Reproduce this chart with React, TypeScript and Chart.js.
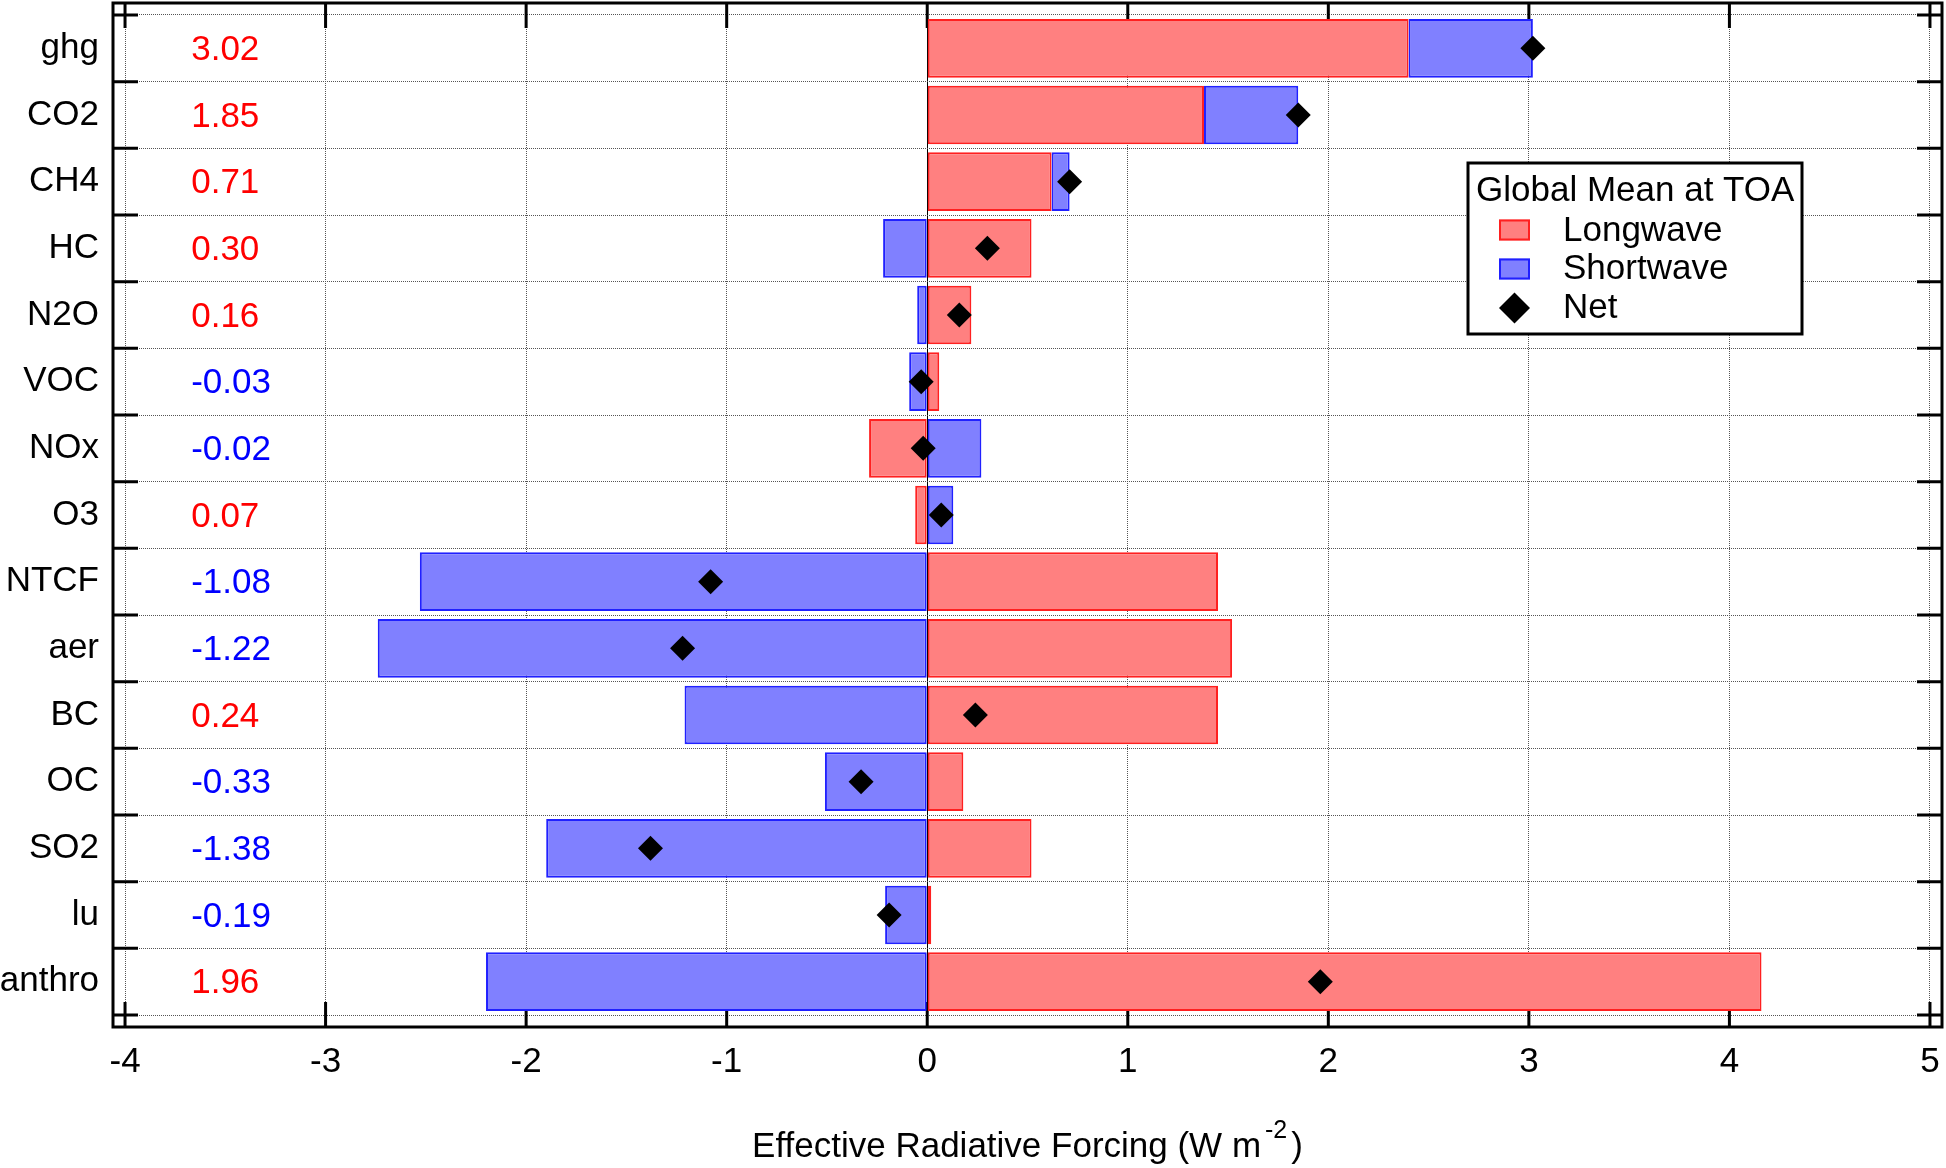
import { useEffect, useRef } from 'react';
import { Chart, registerables } from 'chart.js';

Chart.register(...registerables);

const FONT = "'Liberation Sans', Arial, Helvetica, sans-serif";
const FS = 35;

const CATEGORIES = ['ghg', 'CO2', 'CH4', 'HC', 'N2O', 'VOC', 'NOx', 'O3', 'NTCF', 'aer', 'BC', 'OC', 'SO2', 'lu', 'anthro'];
const LONGWAVE = [2.40, 1.38, 0.62, 0.52, 0.22, 0.06, -0.29, -0.06, 1.45, 1.52, 1.45, 0.18, 0.52, 0.02, 4.16];
const SHORTWAVE = [0.62, 0.47, 0.09, -0.22, -0.05, -0.09, 0.27, 0.13, -2.53, -2.74, -1.21, -0.51, -1.90, -0.21, -2.20];
const NET = [3.02, 1.85, 0.71, 0.30, 0.16, -0.03, -0.02, 0.07, -1.08, -1.22, 0.24, -0.33, -1.38, -0.19, 1.96];
const X_TICKS = [-4, -3, -2, -1, 0, 1, 2, 3, 4, 5];
const X_MIN = -4.06;
const X_MAX = 5.06;
const Y_MIN = -0.68;
const Y_MAX = 14.68;
const NET_LABEL_X = -3.67;
const AXIS_TITLE = 'Effective Radiative Forcing (W m';
const AXIS_TITLE_SUP = '-2';
const AXIS_TITLE_END = ')';
const LEGEND_TITLE = 'Global Mean at TOA';
const LEGEND_LABELS = ['Longwave', 'Shortwave', 'Net'];

const RED_FILL = '#ff8080';
const RED_LINE = '#ff2020';
const BLUE_FILL = '#8080ff';
const BLUE_LINE = '#2020ff';
const GRID = '#555555';

const framePlugin = {
  id: 'frame',
  beforeDatasetsDraw(chart: any) {
    const { ctx, chartArea: a, scales } = chart;
    const x = scales.x;
    const y = scales.y;
    const T = 25;
    ctx.save();
    ctx.strokeStyle = '#000';
    ctx.lineWidth = 3;
    ctx.strokeRect(a.left, a.top, a.right - a.left, a.bottom - a.top);
    ctx.beginPath();
    X_TICKS.forEach((v) => {
      const px = x.getPixelForValue(v);
      ctx.moveTo(px, a.top);
      ctx.lineTo(px, a.top + T);
      ctx.moveTo(px, a.bottom);
      ctx.lineTo(px, a.bottom - T);
    });
    for (let i = 0; i <= CATEGORIES.length; i++) {
      const py = y.getPixelForValue(i - 0.5);
      ctx.moveTo(a.left, py);
      ctx.lineTo(a.left + T, py);
      ctx.moveTo(a.right, py);
      ctx.lineTo(a.right - T, py);
    }
    ctx.stroke();
    ctx.restore();
  },
};

const annotatePlugin = {
  id: 'annotate',
  afterDraw(chart: any) {
    const { ctx, chartArea: a, scales } = chart;
    const x = scales.x;
    const y = scales.y;
    ctx.save();
    const mainFont = `${FS}px ${FONT}`;
    const supFont = `25px ${FONT}`;
    // net values column
    ctx.font = mainFont;
    ctx.textAlign = 'left';
    ctx.textBaseline = 'middle';
    NET.forEach((v, i) => {
      ctx.fillStyle = v > 0 ? '#ff0000' : '#0000ff';
      ctx.fillText(v.toFixed(2), x.getPixelForValue(NET_LABEL_X), y.getPixelForValue(i) + 2);
    });

    // axis title with superscript
    ctx.fillStyle = '#000';
    ctx.textBaseline = 'alphabetic';
    ctx.font = mainFont;
    const w1 = ctx.measureText(AXIS_TITLE).width;
    const w3 = ctx.measureText(AXIS_TITLE_END).width;
    ctx.font = supFont;
    const w2 = ctx.measureText(AXIS_TITLE_SUP).width;
    const gap = 4;
    const cx = (a.left + a.right) / 2;
    const x0 = cx - (w1 + gap + w2 + gap + w3) / 2;
    const base = a.bottom + 130;
    ctx.font = mainFont;
    ctx.fillText(AXIS_TITLE, x0, base);
    ctx.font = supFont;
    ctx.fillText(AXIS_TITLE_SUP, x0 + w1 + gap, base - 19);
    ctx.font = mainFont;
    ctx.fillText(AXIS_TITLE_END, x0 + w1 + gap + w2 + gap, base);

    // legend
    const L = 1468, T = 163, R = 1802, B = 334;
    ctx.fillStyle = '#fff';
    ctx.fillRect(L, T, R - L, B - T);
    ctx.strokeStyle = '#000';
    ctx.lineWidth = 3;
    ctx.strokeRect(L, T, R - L, B - T);
    ctx.fillStyle = '#000';
    ctx.font = mainFont;
    ctx.textBaseline = 'middle';
    ctx.fillText(LEGEND_TITLE, 1476, 191);
    const rows = [231, 269, 308];
    const marks = [230, 269, 308];
    ctx.lineWidth = 2;
    ctx.fillStyle = RED_FILL;
    ctx.strokeStyle = RED_LINE;
    ctx.fillRect(1499, marks[0] - 10.5, 31, 21);
    ctx.strokeRect(1500, marks[0] - 9.5, 29, 19);
    ctx.fillStyle = BLUE_FILL;
    ctx.strokeStyle = BLUE_LINE;
    ctx.fillRect(1499, marks[1] - 10.5, 31, 21);
    ctx.strokeRect(1500, marks[1] - 9.5, 29, 19);
    ctx.fillStyle = '#000';
    const dc = 1514.5, dr = 15.5;
    ctx.beginPath();
    ctx.moveTo(dc - dr, marks[2]);
    ctx.lineTo(dc, marks[2] - dr);
    ctx.lineTo(dc + dr, marks[2]);
    ctx.lineTo(dc, marks[2] + dr);
    ctx.closePath();
    ctx.fill();
    LEGEND_LABELS.forEach((t, i) => {
      ctx.fillText(t, 1563, rows[i]);
    });
    ctx.restore();
  },
};

export default function App() {
  const ref = useRef<HTMLCanvasElement>(null);

  useEffect(() => {
    if (!ref.current) return;
    Chart.defaults.font.family = FONT;
    Chart.defaults.font.size = FS;
    Chart.defaults.color = '#000';

    const chart = new Chart(ref.current, {
      type: 'bar',
      data: {
        datasets: [
          {
            type: 'bar',
            label: 'Longwave',
            data: LONGWAVE.map((v, i) => ({ x: v, y: i })),
            backgroundColor: RED_FILL,
            borderColor: RED_LINE,
            borderWidth: 2,
            borderSkipped: false,
            categoryPercentage: 1,
            barPercentage: 0.88,
            order: 1,
          },
          {
            type: 'bar',
            label: 'Shortwave',
            data: SHORTWAVE.map((v, i) => ({ x: v, y: i })),
            backgroundColor: BLUE_FILL,
            borderColor: BLUE_LINE,
            borderWidth: 2,
            borderSkipped: false,
            categoryPercentage: 1,
            barPercentage: 0.88,
            order: 2,
          },
          {
            type: 'scatter',
            label: 'Net',
            data: NET.map((v, i) => ({ x: v, y: i })),
            pointStyle: 'rectRot',
            pointRadius: 12.5,
            backgroundColor: '#000',
            borderColor: '#000',
            borderWidth: 0,
            showLine: false,
            order: 0,
          } as any,
        ],
      },
      options: {
        indexAxis: 'y',
        responsive: false,
        animation: false,
        events: [],
        layout: { autoPadding: false, padding: { top: 3, right: 4, left: 0, bottom: 0 } },
        plugins: {
          legend: { display: false },
          tooltip: { enabled: false },
          title: { display: false },
        },
        scales: {
          x: {
            type: 'linear',
            min: X_MIN,
            max: X_MAX,
            stacked: true,
            bounds: 'data',
            offset: false,
            afterBuildTicks: (s: any) => {
              s.ticks = X_TICKS.map((v) => ({ value: v }));
            },
            afterFit: (s: any) => {
              s.height = 141;
              s.paddingLeft = 0;
              s.paddingRight = 0;
              s.paddingTop = 0;
              s.paddingBottom = 0;
            },
            grid: {
              offset: false,
              drawTicks: false,
              lineWidth: 1,
              color: (c: any) => (c.tick && c.tick.value === 0 ? '#000' : GRID),
            },
            border: {
              display: false,
              dash: (c: any) => (c.tick && c.tick.value === 0 ? [] : [1, 1]),
            },
            ticks: {
              color: '#000',
              font: { size: FS },
              padding: 14,
              maxRotation: 0,
              autoSkip: false,
              callback: (v: any) => String(v),
            },
          },
          y: {
            type: 'linear',
            min: Y_MIN,
            max: Y_MAX,
            reverse: true,
            stacked: true,
            bounds: 'data',
            offset: false,
            afterBuildTicks: (s: any) => {
              s.ticks = CATEGORIES.map((_, i) => ({ value: i }));
            },
            afterFit: (s: any) => {
              s.width = 113;
              s.paddingTop = 0;
              s.paddingBottom = 0;
              s.paddingLeft = 0;
              s.paddingRight = 0;
            },
            grid: {
              offset: true,
              drawTicks: false,
              lineWidth: 1,
              color: GRID,
            },
            border: { display: false, dash: [1, 1] },
            ticks: {
              color: '#000',
              font: { size: FS },
              padding: 14,
              autoSkip: false,
              callback: (v: any) => CATEGORIES[v as number] ?? '',
            },
          },
        },
      } as any,
      plugins: [framePlugin, annotatePlugin],
    });

    return () => chart.destroy();
  }, []);

  return (
    <div style={{ position: 'absolute', left: 0, top: 0, width: 1946, height: 1168, background: '#fff' }}>
      <canvas ref={ref} width={1946} height={1168} style={{ display: 'block', width: 1946, height: 1168 }} />
    </div>
  );
}
